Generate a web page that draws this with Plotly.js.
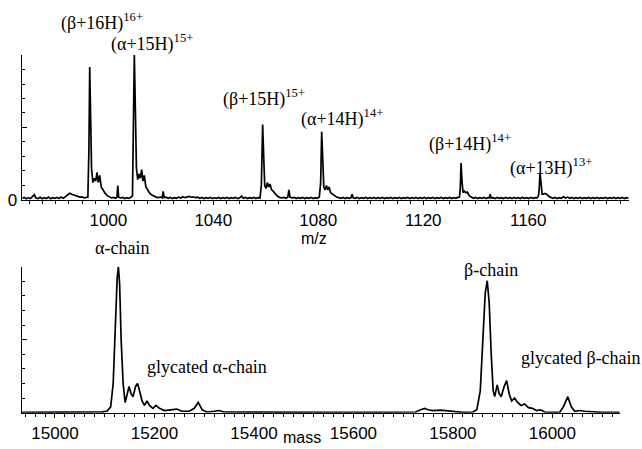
<!DOCTYPE html>
<html>
<head>
<meta charset="utf-8">
<script src="https://cdn.plot.ly/plotly-3.0.1.min.js"></script>
<style>html,body{margin:0;padding:0;background:#fff;}#chart{width:642px;height:449px;}</style>
</head>
<body>
<div id="chart"></div>
<script>
// ---- Top panel: ESI spectrum (m/z vs relative intensity) ----
const topMz = [
 967.3,968,968.7,969.5,970.3,971,971.8,972.4,973.2,974,
 974.8,975.6,976.4,977.2,978,978.8,979.6,980.4,981.2,982,
 982.8,983.6,984.4,985.2,986,986.8,987.6,988.4,989.2,990,
 990.8,991.6,992.2,992.6,992.9,993.2,993.6,994.1,994.7,995.2,
 995.7,996.2,996.7,997.3,998,998.8,999.6,1000.4,1001.2,1002,
 1002.8,1003.3,1003.6,1003.9,1004.6,1005.4,1006.2,1007,1007.8,1008.6,
 1009.2,1009.5,1009.9,1010.3,1010.7,1011.2,1011.7,1012.2,1012.7,1013.2,
 1013.7,1014.3,1015,1015.8,1016.6,1017.4,1018.2,1019,1019.8,1020.5,
 1020.9,1021.3,1022,1022.8,1023.6,1024.4,1025.2,1026,1026.8,1027.6,
 1028.4,1029.2,1030,1030.8,1031.6,1032.4,1033.2,1034,1034.8,1035.6,
 1036.4,1037.2,1038,1038.8,1039.6,1040.4,1041.2,1042,1042.8,1043.6,
 1044.4,1045.2,1046,1046.8,1047.6,1048.4,1049.2,1050,1050.8,1051.4,
 1052.2,1053,1053.8,1054.6,1055.4,1056.2,1057,1057.8,1058.3,1058.8,
 1059.2,1059.6,1060.1,1060.6,1061.1,1061.6,1062.2,1062.9,1063.7,1064.5,
 1065.3,1066.1,1066.9,1067.7,1068.4,1068.8,1069.2,1070,1070.8,1071.6,
 1072.4,1073.2,1074,1074.8,1075.6,1076.4,1077.2,1078,1078.8,1079.6,
 1080.4,1080.9,1081.3,1081.7,1082.1,1082.6,1083.1,1083.6,1084.1,1084.7,
 1085.4,1086.2,1087,1087.8,1088.6,1089.4,1090.2,1091,1091.8,1092.5,
 1092.9,1093.3,1094,1094.8,1095.6,1096.4,1097.2,1098,1098.8,1099.6,
 1100.4,1101.2,1102,1102.8,1103.6,1104.4,1105.2,1106,1106.8,1107.6,
 1108.4,1109.2,1110,1110.8,1111.6,1112.4,1113.2,1114,1114.8,1115.6,
 1116.4,1117.2,1118,1118.8,1119.6,1120.4,1121.2,1122,1122.8,1123.6,
 1124.4,1125.2,1126,1126.8,1127.6,1128.4,1129.2,1130,1130.8,1131.6,
 1132.4,1133.2,1133.8,1134.1,1134.4,1134.8,1135.2,1135.7,1136.2,1136.8,
 1137.5,1138.3,1139.1,1139.9,1140.7,1141.5,1142.3,1143.1,1143.9,1144.7,
 1145.2,1145.5,1145.8,1146.6,1147.4,1148.2,1149,1149.8,1150.6,1151.4,
 1152.2,1153,1153.8,1154.6,1155.4,1156.2,1157,1157.8,1158.6,1159.4,
 1160.2,1161,1161.8,1162.6,1163.4,1163.9,1164.2,1164.5,1164.9,1165.3,
 1165.8,1166.4,1167,1167.8,1168.6,1169.4,1170.2,1171,1171.8,1172.6,
 1173.4,1174.2,1175,1175.8,1176.6,1177.4,1178.2,1179,1179.8,1180.6,
 1181.4,1182.2,1183,1183.8,1184.6,1185.4,1186.2,1187,1187.8,1188.6,
 1189.4,1190.2,1191,1191.8,1192.6,1193.4,1194.2,1195,1195.8,1196.6,
 1197.4,1198.2
];
const topIntensity = [
 0.012,0.018,0.008,0.015,0.010,0.020,0.036,0.014,0.010,0.018,
 0.008,0.016,0.010,0.020,0.009,0.016,0.011,0.018,0.010,0.020,
 0.012,0.022,0.035,0.046,0.040,0.036,0.030,0.026,0.020,0.022,
 0.014,0.018,0.020,0.350,0.917,0.620,0.220,0.120,0.150,0.130,
 0.190,0.120,0.170,0.090,0.065,0.045,0.030,0.020,0.014,0.018,
 0.012,0.020,0.100,0.020,0.014,0.018,0.010,0.016,0.012,0.018,
 0.030,0.450,1.000,0.620,0.220,0.140,0.180,0.150,0.210,0.130,
 0.170,0.090,0.065,0.045,0.035,0.025,0.020,0.016,0.020,0.015,
 0.060,0.016,0.020,0.012,0.018,0.010,0.016,0.012,0.020,0.014,
 0.022,0.016,0.020,0.024,0.018,0.022,0.016,0.020,0.012,0.018,
 0.010,0.016,0.012,0.018,0.010,0.015,0.012,0.018,0.010,0.016,
 0.012,0.018,0.010,0.016,0.012,0.018,0.010,0.014,0.026,0.012,
 0.018,0.010,0.016,0.012,0.018,0.010,0.016,0.014,0.100,0.520,
 0.300,0.100,0.080,0.120,0.090,0.110,0.070,0.060,0.040,0.025,
 0.018,0.014,0.018,0.012,0.020,0.070,0.020,0.014,0.018,0.010,
 0.016,0.012,0.018,0.010,0.016,0.012,0.018,0.010,0.016,0.012,
 0.020,0.120,0.470,0.270,0.090,0.070,0.100,0.070,0.090,0.050,
 0.040,0.030,0.020,0.016,0.012,0.018,0.010,0.016,0.012,0.016,
 0.040,0.015,0.012,0.018,0.010,0.016,0.012,0.018,0.010,0.016,
 0.012,0.018,0.010,0.016,0.012,0.018,0.010,0.016,0.012,0.018,
 0.010,0.016,0.012,0.018,0.010,0.016,0.012,0.018,0.010,0.016,
 0.012,0.018,0.010,0.016,0.012,0.018,0.010,0.016,0.012,0.018,
 0.010,0.016,0.012,0.018,0.010,0.016,0.012,0.018,0.010,0.016,
 0.012,0.018,0.020,0.080,0.255,0.120,0.050,0.060,0.050,0.055,
 0.030,0.020,0.012,0.018,0.010,0.016,0.012,0.018,0.010,0.016,
 0.015,0.040,0.015,0.016,0.010,0.018,0.012,0.016,0.010,0.018,
 0.012,0.016,0.010,0.018,0.012,0.016,0.010,0.018,0.012,0.016,
 0.010,0.018,0.012,0.016,0.014,0.030,0.080,0.186,0.090,0.040,
 0.040,0.045,0.040,0.025,0.018,0.012,0.018,0.010,0.016,0.012,
 0.022,0.014,0.020,0.012,0.018,0.010,0.016,0.012,0.018,0.010,
 0.016,0.012,0.018,0.010,0.016,0.012,0.018,0.010,0.016,0.012,
 0.018,0.010,0.016,0.012,0.018,0.010,0.016,0.012,0.018,0.010,
 0.016,0.012
];
const topTickVals = [1000, 1040, 1080, 1120, 1160];

// ---- Bottom panel: deconvoluted mass spectrum ----
const massAxis = [
 14934,14960,14990,15020,15050,15075,15095,15105,15112,15117,
 15121,15125,15127.5,15130,15133,15137,15141,15145,15149,15153,
 15157,15162,15166,15170,15175,15180,15185,15190,15197,15203,
 15210,15220,15230,15245,15255,15270,15280,15288,15296,15305,
 15320,15330,15340,15370,15400,15450,15500,15550,15600,15650,
 15700,15725,15735,15743,15750,15760,15775,15790,15800,15820,
 15840,15848,15855,15860,15865,15869,15873,15877,15881,15884,
 15889,15893,15897,15903,15908,15913,15918,15924,15930,15937,
 15944,15952,15960,15968,15976,15985,15995,16005,16015,16022,
 16031,16038,16045,16055,16065,16080,16100,16120,16135
];
const massIntensity = [
 0.002,0.003,0.001,0.003,0.002,0.004,0.006,0.012,0.040,0.200,
 0.550,0.920,1.000,0.880,0.500,0.200,0.070,0.130,0.180,0.130,
 0.110,0.180,0.200,0.150,0.080,0.050,0.080,0.050,0.030,0.050,
 0.030,0.015,0.020,0.025,0.010,0.010,0.030,0.070,0.020,0.005,
 0.010,0.015,0.005,0.004,0.003,0.002,0.001,0.002,0.002,0.003,
 0.003,0.005,0.020,0.030,0.020,0.015,0.018,0.012,0.008,0.003,
 0.005,0.020,0.150,0.500,0.820,0.904,0.750,0.400,0.150,0.110,
 0.190,0.130,0.110,0.180,0.220,0.130,0.080,0.100,0.070,0.050,
 0.060,0.035,0.030,0.015,0.020,0.005,0.003,0.002,0.005,0.040,
 0.110,0.040,0.010,0.015,0.010,0.005,0.003,0.002,0.002
];
const massTickVals = [15000, 15200, 15400, 15600, 15800, 16000];

// ---- Peak labels ----
const topLabels = ['(β+16H)<sup>16+</sup>', '(α+15H)<sup>15+</sup>', '(β+15H)<sup>15+</sup>',
                   '(α+14H)<sup>14+</sup>', '(β+14H)<sup>14+</sup>', '(α+13H)<sup>13+</sup>'];
const topLabelMz = [997.6, 1016.6, 1059.3, 1089.0, 1137.8, 1168.6];
const topLabelLevel = [1.228, 1.083, 0.703, 0.566, 0.393, 0.228];
const massLabels = ['α-chain', 'glycated α-chain', 'β-chain', 'glycated β-chain'];
const massLabelPos = [15134.7, 15305.6, 15876.4, 16058];
const massLabelLevel = [1.128, 0.315, 0.977, 0.375];

const serif = {family: 'Liberation Serif, Times New Roman, serif', size: 18, color: '#000'};
const sans = {family: 'Liberation Sans, Arial, sans-serif', size: 17, color: '#000'};
const titleFont = {family: 'Liberation Sans, Arial, sans-serif', size: 16, color: '#000'};

const lineStyle = {color: '#000', width: 1.7};
const traces = [
  {x: topMz, y: topIntensity, xaxis: 'x', yaxis: 'y', type: 'scatter', mode: 'lines',
   line: lineStyle, hoverinfo: 'skip', showlegend: false},
  {x: massAxis, y: massIntensity, xaxis: 'x2', yaxis: 'y2', type: 'scatter', mode: 'lines',
   line: lineStyle, hoverinfo: 'skip', showlegend: false}
];

const baseX = {
  showline: true, linecolor: '#000', linewidth: 1.5, showgrid: false, zeroline: false,
  ticks: 'outside', ticklen: 4, tickwidth: 1, tickcolor: '#000', tickfont: sans,
  tickformat: 'd'
};
const baseY = {
  showline: true, linecolor: '#000', linewidth: 1.5, showgrid: false, zeroline: false,
  range: [0, 1], ticks: 'inside', ticklen: 5, tickwidth: 1, tickcolor: '#000', tickfont: sans,
  tickvals: [0, 0.5, 1],
  minor: {dtick: 0.1, tick0: 0, ticks: 'inside', ticklen: 3, tickwidth: 1, tickcolor: '#000'}
};

const annotations = [];
topLabels.forEach((t, i) => annotations.push({
  text: t, x: topLabelMz[i], y: topLabelLevel[i], xref: 'x', yref: 'y domain',
  showarrow: false, xanchor: 'center', yanchor: 'middle', font: serif
}));
massLabels.forEach((t, i) => annotations.push({
  text: t, x: massLabelPos[i], y: massLabelLevel[i], xref: 'x2', yref: 'y2 domain',
  showarrow: false, xanchor: 'center', yanchor: 'middle', font: serif
}));
annotations.push({text: 'm/z', xref: 'paper', yref: 'paper', x: 0.481, y: 0.469,
  showarrow: false, xanchor: 'center', yanchor: 'middle', font: titleFont});
annotations.push({text: 'mass', xref: 'paper', yref: 'paper', x: 0.461, y: 0.0245,
  showarrow: false, xanchor: 'center', yanchor: 'middle', font: titleFont});

const layout = {
  width: 642, height: 449,
  margin: {l: 22, r: 13, t: 0, b: 0},
  paper_bgcolor: '#fff', plot_bgcolor: '#fff',
  xaxis: Object.assign({}, baseX, {
    domain: [0, 1], anchor: 'y', range: [967.1, 1198.4], tickvals: topTickVals,
    minor: {dtick: 5, tick0: 1000, ticks: 'outside', ticklen: 3, tickwidth: 1, tickcolor: '#000'}
  }),
  yaxis: Object.assign({}, baseY, {
    domain: [0.5546, 0.8775], anchor: 'x', ticktext: ['0', '', '']
  }),
  xaxis2: Object.assign({}, baseX, {
    domain: [0, 0.985], anchor: 'y2', range: [14933.7, 16135.7], tickvals: massTickVals,
    minor: {dtick: 20, tick0: 15000, ticks: 'outside', ticklen: 3, tickwidth: 1, tickcolor: '#000'}
  }),
  yaxis2: Object.assign({}, baseY, {
    domain: [0.0808, 0.406], anchor: 'x2', showticklabels: false
  }),
  annotations: annotations
};

Plotly.newPlot('chart', traces, layout, {displayModeBar: false, staticPlot: true});
</script>
</body>
</html>
